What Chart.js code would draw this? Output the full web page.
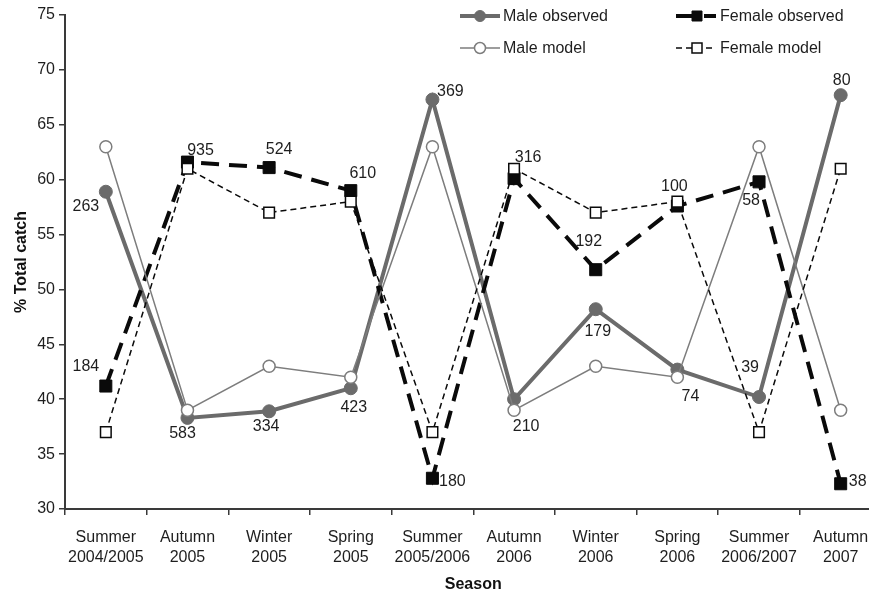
<!DOCTYPE html>
<html><head><meta charset="utf-8">
<script src="https://cdn.jsdelivr.net/npm/chart.js@4.4.0/dist/chart.umd.min.js"></script>
<style>html,body{margin:0;padding:0;overflow:hidden;background:#fff}
#wrap{width:869px;height:596px;overflow:hidden;position:relative}</style>
</head><body>
<div id="wrap"><canvas id="c" width="891" height="596" style="display:block;width:891px;height:596px"></canvas></div>
<script>
const seasons = [['Summer','2004/2005'],['Autumn','2005'],['Winter','2005'],['Spring','2005'],['Summer','2005/2006'],['Autumn','2006'],['Winter','2006'],['Spring','2006'],['Summer','2006/2007'],['Autumn','2007']];
const maleObserved   = [58.9, 38.3, 38.9, 41.0, 67.3, 40.0, 48.2, 42.7, 40.2, 67.7];
const maleModel      = [63, 39, 43, 42, 63, 39, 43, 42, 63, 39];
const femaleObserved = [41.2, 61.6, 61.1, 59.0, 32.8, 60.1, 51.8, 57.6, 59.8, 32.3];
const femaleModel    = [37, 61, 57, 58, 37, 61, 57, 58, 37, 61];
const maleCounts   = [263, 583, 334, 423, 369, 210, 179, 74, 39, 80];
const femaleCounts = [184, 935, 524, 610, 180, 316, 192, 100, 58, 38];
const yTicks = [30, 35, 40, 45, 50, 55, 60, 65, 70, 75];

// label placement offsets (layout only)
const maleLabelOffsets   = [[-20,15],[-5,16],[-3,15],[3,19],[18,-8],[12,27],[2,22],[13,27],[-9,-29],[1,-15]];
const femaleLabelOffsets = [[-20,-19],[13,-12],[10,-18],[12,-17],[20,3],[14,-21],[-7,-28],[-3,-19],[-8,19],[17,-2]];

const FONT = '"Liberation Sans", Arial, Helvetica, sans-serif';
const GRAY_OBS = '#6b6b6b', GRAY_MOD = '#7d7d7d', BLACK = '#0a0a0a', AX = '#3a3a3a', TXT = '#1e1e1e';

const countLabels = {
  id: 'counts',
  afterDatasetsDraw(chart) {
    const ctx = chart.ctx;
    ctx.save();
    ctx.font = '16px ' + FONT; ctx.fillStyle = TXT; ctx.textAlign = 'center'; ctx.textBaseline = 'middle';
    [[0, maleCounts, maleLabelOffsets], [1, femaleCounts, femaleLabelOffsets]].forEach(([di, counts, offs]) => {
      chart.getDatasetMeta(di).data.forEach((pt, i) => {
        ctx.fillText(String(counts[i]), pt.x + offs[i][0], pt.y + offs[i][1]);
      });
    });
    ctx.restore();
  }
};

const customLegend = {
  id: 'customLegend',
  afterDraw(chart) {
    const ctx = chart.ctx;
    const ds = chart.data.datasets;
    const items = [
      {d: ds[0], x0: 460, y: 16, mx: 480, tx: 503},
      {d: ds[2], x0: 460, y: 48, mx: 480, tx: 503},
      {d: ds[1], x0: 676, y: 16, mx: 697, tx: 720},
      {d: ds[3], x0: 676, y: 48, mx: 697, tx: 720}
    ];
    items.forEach(it => {
      const d = it.d;
      ctx.save();
      ctx.strokeStyle = d.borderColor; ctx.lineWidth = d.borderWidth;
      ctx.setLineDash(d.borderDash || []);
      ctx.beginPath(); ctx.moveTo(it.x0, it.y); ctx.lineTo(it.x0 + 40, it.y); ctx.stroke();
      ctx.setLineDash([]);
      ctx.fillStyle = d.pointBackgroundColor; ctx.strokeStyle = d.pointBorderColor; ctx.lineWidth = d.pointBorderWidth;
      ctx.beginPath();
      if (d.pointStyle === 'circle') ctx.arc(it.mx, it.y, 5.5, 0, Math.PI * 2);
      else ctx.rect(it.mx - 5, it.y - 5, 10, 10);
      ctx.fill(); ctx.stroke();
      ctx.font = '16px ' + FONT; ctx.fillStyle = TXT; ctx.textAlign = 'left'; ctx.textBaseline = 'middle';
      ctx.fillText(d.label, it.tx, it.y + 1);
      ctx.restore();
    });
  }
};

new Chart(document.getElementById('c'), {
  type: 'line',
  data: {
    labels: seasons,
    datasets: [
      {label: 'Male observed', data: maleObserved, borderColor: GRAY_OBS, borderWidth: 4,
       pointStyle: 'circle', pointRadius: 6.5, pointBackgroundColor: GRAY_OBS, pointBorderColor: GRAY_OBS, pointBorderWidth: 1, order: 4},
      {label: 'Female observed', data: femaleObserved, borderColor: BLACK, borderWidth: 4, borderDash: [18, 10],
       pointStyle: 'rect', pointRadius: 8.5, pointBackgroundColor: BLACK, pointBorderColor: BLACK, pointBorderWidth: 1, order: 3},
      {label: 'Male model', data: maleModel, borderColor: GRAY_MOD, borderWidth: 1.5,
       pointStyle: 'circle', pointRadius: 6, pointBackgroundColor: '#fff', pointBorderColor: GRAY_MOD, pointBorderWidth: 1.5, order: 2},
      {label: 'Female model', data: femaleModel, borderColor: BLACK, borderWidth: 1.5, borderDash: [6, 4],
       pointStyle: 'rect', pointRadius: 7.5, pointBackgroundColor: '#fff', pointBorderColor: BLACK, pointBorderWidth: 1.5, order: 1}
    ]
  },
  options: {
    responsive: false, animation: false, devicePixelRatio: 1,
    layout: {padding: {top: 15, right: 0, left: 0, bottom: 0}},
    plugins: {legend: {display: false}, tooltip: {enabled: false}},
    elements: {line: {tension: 0}},
    scales: {
      x: {
        offset: true,
        grid: {display: true, offset: true, drawOnChartArea: false, drawTicks: true, tickLength: 6, color: AX, lineWidth: 1.5},
        border: {display: true, color: AX, width: 2},
        ticks: {color: TXT, font: {family: FONT, size: 16, lineHeight: 1.25}, padding: 13, maxRotation: 0, autoSkip: false},
        title: {display: true, text: 'Season', color: '#111', font: {family: FONT, size: 16, weight: 'bold'}, padding: {top: 0, bottom: 2}},
        afterFit(s) { s.height = 87; }
      },
      y: {
        min: 30, max: 75,
        afterBuildTicks(s) { s.ticks = yTicks.map(v => ({value: v})); },
        grid: {display: true, drawOnChartArea: false, drawTicks: true, tickLength: 6, color: AX, lineWidth: 1.5},
        border: {display: true, color: AX, width: 2},
        ticks: {color: TXT, font: {family: FONT, size: 16}, padding: 4},
        title: {display: true, text: '% Total catch', color: '#111', font: {family: FONT, size: 16, weight: 'bold'}, padding: {top: 12, bottom: 0}},
        afterFit(s) { s.width = 65; }
      }
    }
  },
  plugins: [countLabels, customLegend]
});
</script>
</body></html>
